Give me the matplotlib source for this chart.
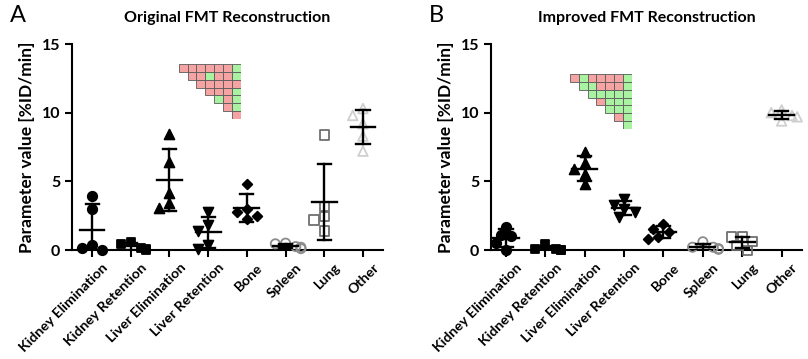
"""
Scatter dot plots of fitted kinetic parameters, original vs improved FMT reconstruction.
"""

import numpy as np
import matplotlib.pyplot as plt
import matplotlib.transforms as mtransforms
from matplotlib.patches import Rectangle

plt.rcParams["font.family"] = ["Lato", "DejaVu Sans"]
plt.rcParams["font.weight"] = "bold"

categories = ["Kidney Elimination", "Kidney Retention", "Liver Elimination",
              "Liver Retention", "Bone", "Spleen", "Lung", "Other"]

# parameter values per animal [%ID/min]
orig_values = [
    [3.95, 2.95, 0.35, 0.0, 0.15],
    [0.6, 0.41, 0.17, 0.0, 0.1],
    [8.45, 6.39, 4.17, 3.04, 3.4],
    [2.79, 1.82, 1.41, 0.36, 0.05],
    [4.78, 2.8, 2.95, 2.5, 2.23],
    [0.5, 0.45, 0.2, 0.1, 0.25],
    [8.37, 3.16, 2.43, 2.19, 1.38],
    [10.3, 9.8, 9.2, 8.3, 7.2],
]
impr_values = [
    [1.7, 1.1, 0.5, 0.0, 1.0],
    [0.44, 0.05, 0.02, 0.0, 0.1],
    [7.16, 6.31, 5.87, 5.53, 4.78],
    [3.7, 3.3, 3.0, 2.8, 2.4],
    [1.9, 1.5, 1.3, 0.95, 0.8],
    [0.6, 0.2, 0.1, 0.05, 0.2],
    [0.95, 0.95, 0.6, 0.3, -0.05],
    [10.2, 10.0, 9.8, 9.7, 9.4],
]

# parameter correlation significance maps (upper triangle, 1 = green, 0 = red)
orig_grid = [
    [0, 0, 0, 0, 0, 0, 1],
    [0, 0, 1, 0, 0, 1],
    [0, 0, 0, 0, 0],
    [0, 0, 0, 1],
    [1, 0, 1],
    [0, 1],
    [0],
]
impr_grid = [
    [0, 1, 0, 0, 0, 0, 1],
    [1, 1, 0, 0, 0, 1],
    [1, 1, 1, 1, 1],
    [0, 1, 1, 1],
    [1, 1, 1],
    [0, 1],
    [1],
]

markers = [
    dict(marker="o", s=46, facecolors="black", edgecolors="black"),
    dict(marker="s", s=40, facecolors="black", edgecolors="black"),
    dict(marker="^", s=50, facecolors="black", edgecolors="black"),
    dict(marker="v", s=50, facecolors="black", edgecolors="black"),
    dict(marker="D", s=24, facecolors="black", edgecolors="black"),
    dict(marker="o", s=44, facecolors="none", edgecolors="#8c8c8c"),
    dict(marker="s", s=44, facecolors="none", edgecolors="#707070"),
    dict(marker="^", s=48, facecolors="none", edgecolors="#cfcfcf"),
]

cell_colors = ["#f5a3a3", "#a8f2a2"]


def swarm_offsets(vals, dx=0.22, dy=0.65):
    """Simple beeswarm: push points sideways when they would overlap."""
    order = np.argsort(vals)[::-1]
    placed = []
    offs = np.zeros(len(vals))
    steps = [0, -1, 1, -2, 2, -3, 3]
    for i in order:
        for k in steps:
            x = k * dx * 0.6
            ok = all(((x - px) / dx) ** 2 + ((vals[i] - py) / dy) ** 2 >= 1 for px, py in placed)
            if ok:
                break
        offs[i] = x
        placed.append((x, vals[i]))
    return offs


def draw_grid(ins, grid):
    n = len(grid)
    for r, row in enumerate(grid):
        for j, v in enumerate(row):
            c = n - len(row) + j
            ins.add_patch(Rectangle((c, r), 1, 1, facecolor=cell_colors[v],
                                    edgecolor="#5a5a5a", linewidth=0.6))
    ins.set_xlim(0, n)
    ins.set_ylim(n, 0)
    ins.axis("off")


def draw_panel(fig, ax, values, grid, grid_box, title, letter, xlim):
    for i, vals in enumerate(values):
        vals = np.asarray(vals)
        xs = i + swarm_offsets(vals)
        ax.scatter(xs, vals, linewidths=1.3, zorder=3, clip_on=False, **markers[i])
        m, sd = vals.mean(), vals.std(ddof=1)
        lo = max(m - sd, 0)
        ax.plot([i, i], [lo, m + sd], color="black", lw=1.7, zorder=4)
        ax.plot([i - 0.32, i + 0.32], [m, m], color="black", lw=1.7, zorder=4)
        ax.plot([i - 0.17, i + 0.17], [m + sd, m + sd], color="black", lw=1.7, zorder=4)
        if m - sd > 0:
            ax.plot([i - 0.17, i + 0.17], [m - sd, m - sd], color="black", lw=1.7, zorder=4)

    ax.set_xlim(*xlim)
    ax.set_ylim(0, 15)
    ax.set_yticks([0, 5, 10, 15])
    ax.set_xticks(range(len(categories)))
    ax.set_xticklabels(categories, rotation=45, ha="right", rotation_mode="anchor")
    ax.tick_params(axis="both", direction="out", length=5, width=1.5, labelsize=10.2)
    ax.tick_params(axis="y", labelsize=11.5)
    ax.tick_params(axis="x", pad=3)
    shift = mtransforms.ScaledTranslation(7 / 72, 0, fig.dpi_scale_trans)
    for lab in ax.get_xticklabels():
        lab.set_transform(lab.get_transform() + shift)
    for lab in ax.get_xticklabels() + ax.get_yticklabels():
        lab.set_fontweight("bold")
    for s in ["top", "right"]:
        ax.spines[s].set_visible(False)
    for s in ["left", "bottom"]:
        ax.spines[s].set_linewidth(1.5)
    ax.set_ylabel("Parameter value [%ID/min]", fontsize=12.5, fontweight="bold", labelpad=5)
    ax.set_title(title, fontsize=11.5, fontweight="bold", pad=16)
    ax.text(-0.2, 1.14, letter, transform=ax.transAxes, fontsize=17,
            fontweight="normal", va="center", ha="left")

    ins = ax.inset_axes(grid_box, transform=ax.transData)
    draw_grid(ins, grid)


fig = plt.figure(figsize=(8.08, 3.59), dpi=100)
ax_a = fig.add_axes([0.0891, 0.3036, 0.385, 0.5738])
ax_b = fig.add_axes([0.6077, 0.3036, 0.385, 0.5738])

draw_panel(fig, ax_a, orig_values, orig_grid, [2.24, 9.54, 1.6, 4.01],
           "Original FMT Reconstruction", "A", (-0.52, 7.52))
draw_panel(fig, ax_b, impr_values, impr_grid, [1.62, 8.81, 1.58, 4.01],
           "Improved FMT Reconstruction", "B", (-0.38, 7.52))

fig.savefig("out.png", dpi=100)
